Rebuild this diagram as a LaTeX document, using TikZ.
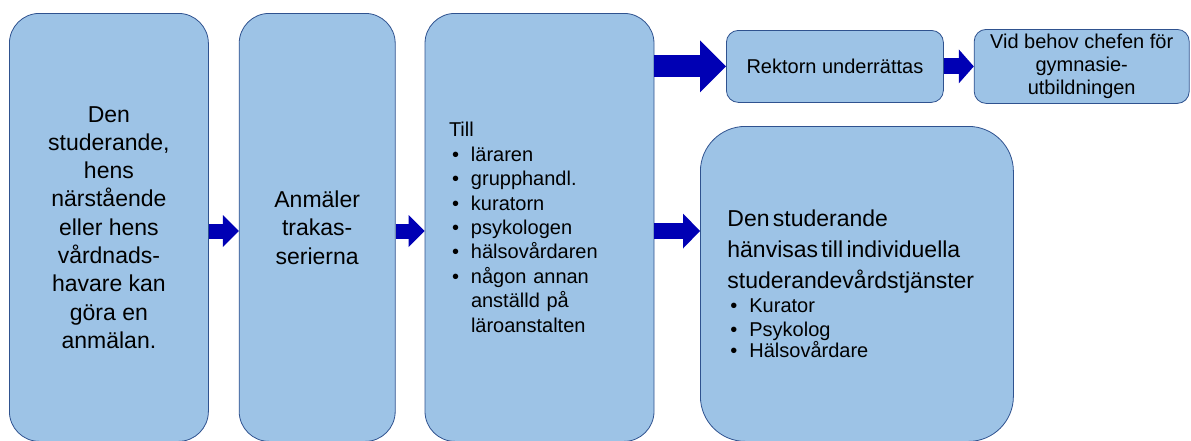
\documentclass[tikz,border=0pt]{standalone}
\usepackage{fontspec}
\setmainfont{Liberation Sans}
\usetikzlibrary{arrows.meta, positioning}
\definecolor{boxfill}{RGB}{157,195,230}
\definecolor{boxline}{RGB}{47,82,143}
\definecolor{arrowblue}{RGB}{0,0,180}
\newcommand{\blt}{\makebox[22pt][l]{\hspace{3pt}\textbullet}}

\begin{document}
\begin{tikzpicture}[
  x=1pt, y=-1pt,
  box/.style={draw=boxline, fill=boxfill, line width=0.8pt, rounded corners=30pt, inner sep=0pt, align=center},
  tall/.style={box, minimum height=428pt},
  small/.style={box, rounded corners=12pt, font=\fontsize{20}{23}\selectfont},
  flow/.style={arrowblue, line width=15pt, -{Triangle[length=16pt, width=32pt, line width=0pt]}},
  node distance=30pt
]
\useasboundingbox (0,0) rectangle (1191,440);
\coordinate (midline) at (0,231);

\node[tall, minimum width=199pt, anchor=north west, font=\fontsize{23}{28.3}\selectfont] (anmalare) at (9,13)
  {Den\\studerande,\\hens\\närstående\\eller hens\\vårdnads-\\havare kan\\göra en\\anmälan.};
\node[tall, minimum width=156pt, right=30pt of anmalare, font=\fontsize{23}{28.5}\selectfont] (anmaler)
  {Anmäler\\trakas-\\serierna};
\node[tall, minimum width=229pt, right=29pt of anmaler, text width=181pt, align=left, font=\fontsize{20}{24.4}\selectfont] (till)
  {Till\\\blt läraren\\\blt grupphandl.\\\blt kuratorn\\\blt psykologen\\\blt hälsovårdaren\\\blt någon annan\\\hspace*{22pt}anställd på\\\hspace*{22pt}läroanstalten};
\node[small, minimum width=217pt, minimum height=72pt, anchor=north west] (rektor) at (726,30) {Rektorn underrättas};
\node[small, minimum width=215pt, minimum height=74pt, right=30pt of rektor] (chef) {Vid behov chefen för\\gymnasie-\\utbildningen};
\node[box, rounded corners=45pt, minimum width=313pt, minimum height=315pt, anchor=north west, text width=259pt, align=left] (stud) at (700,126)
  {\noindent{\fontsize{23}{31}\selectfont \mbox{Den studerande}\\\mbox{hänvisas till individuella}\\\mbox{studerandevårdstjänster}\par}
   \noindent\fontsize{20}{24}\selectfont\blt Kurator\\\blt Psykolog\\\blt Hälsovårdare};

\draw[flow] (anmalare.east |- midline) -- (anmaler.west |- midline);
\draw[flow] (anmaler.east |- midline) -- (till.west |- midline);
\draw[flow, line width=16pt, -{Triangle[length=17pt, width=35pt, line width=0pt]}] (till.east |- midline) -- (stud.west |- midline);
\draw[flow, line width=22pt, -{Triangle[length=26pt, width=52pt, line width=0pt]}] (till.east |- rektor.west) -- (rektor.west);
\draw[flow, line width=16pt, -{Triangle[length=15pt, width=34pt, line width=0pt]}] (rektor.east) -- (chef.west |- rektor.east);
\end{tikzpicture}
\end{document}
